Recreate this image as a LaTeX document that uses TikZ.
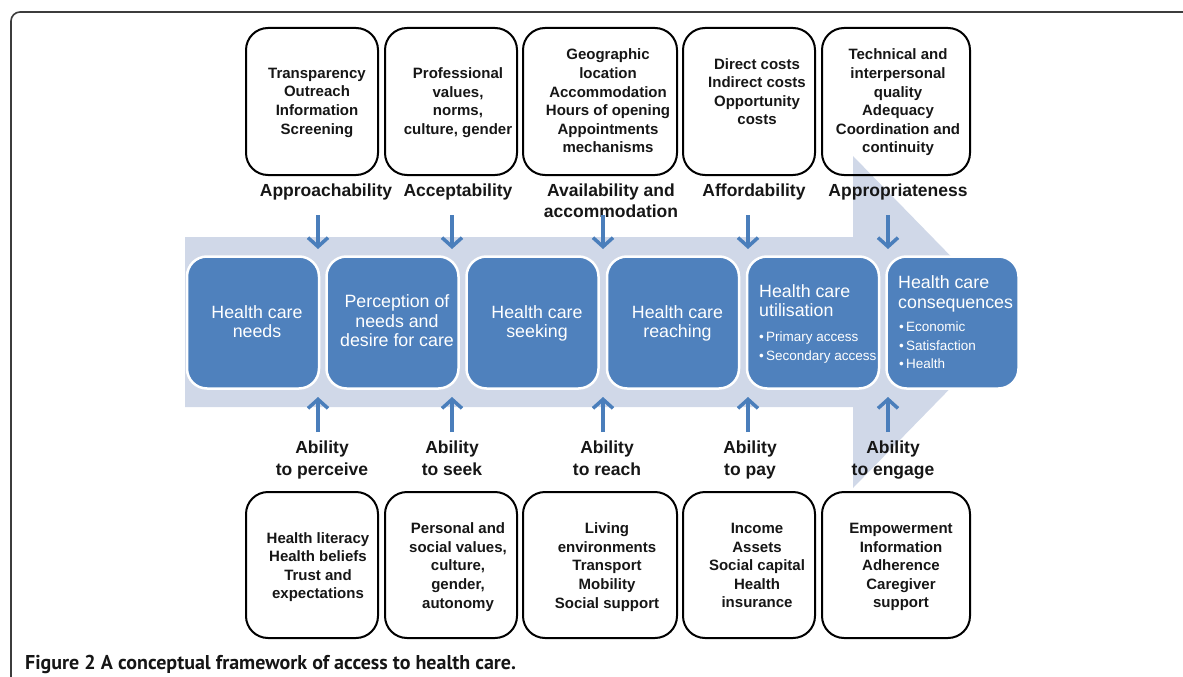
\documentclass[tikz,border=0pt]{standalone}
\usepackage{fontspec}
\setmainfont{Liberation Sans}
\newfontfamily\capfont{PT Sans}
\usetikzlibrary{arrows.meta}
\definecolor{pale}{RGB}{208,216,232}
\definecolor{hblue}{RGB}{79,129,189}
\definecolor{arrblue}{RGB}{74,126,187}
\definecolor{ink}{RGB}{22,22,22}
\definecolor{framec}{RGB}{60,60,60}
\tikzset{
 factorbox/.style={draw=black, line width=2pt, rounded corners=22pt, minimum width=#1, minimum height=147pt, inner sep=0pt},
 stagebox/.style={fill=hblue, draw=white, line width=2.5pt, rounded corners=20pt, minimum width=132pt, minimum height=132pt, inner sep=0pt},
 boxtext/.style={font=\bfseries\fontsize{15}{18.6}\selectfont, align=center, text=ink, inner sep=0pt, text depth=0pt},
 dimlabel/.style={font=\bfseries\fontsize{17.5}{21.5}\selectfont, align=center, text=ink, inner sep=0pt, text depth=0pt},
 stagetext/.style={font=\fontsize{17.8}{19.5}\selectfont, align=center, text=white, inner sep=0pt, text depth=0pt},
 stagetitle/.style={font=\fontsize{17.8}{19.5}\selectfont, align=left, text=white, inner sep=0pt, text depth=0pt, anchor=west},
 bullettext/.style={font=\fontsize{13.5}{18.5}\selectfont, align=left, text=white, inner sep=0pt, text depth=0pt, anchor=west},
 flowarrow/.style={draw=arrblue, line width=3.5pt, -{Straight Barb[length=9pt,width=20pt,line width=3.5pt]}},
}
\begin{document}
\begin{tikzpicture}[x=1pt,y=-1pt]
\useasboundingbox (0,0) rectangle (1183,677);
% frame
\draw[framec, line width=1.6pt, rounded corners=9pt] (11,700) -- (11,12) -- (1200,12);
% big pale arrow
\fill[pale] (185,237) -- (853,237) -- (853,156) -- (1015,322) -- (853,488) -- (853,407) -- (185,407) -- cycle;
% stage boxes
\node[stagebox] (s1) at (253,322.5) {};
\node[stagebox] (s2) at (392.5,322.5) {};
\node[stagebox] (s3) at (532.5,322.5) {};
\node[stagebox] (s4) at (673,322.5) {};
\node[stagebox] (s5) at (813,322.5) {};
\node[stagebox] (s6) at (952.5,322.5) {};
\node[stagetext] (s1t) at (257,321.5) {Health care\\needs};
\node[stagetext] (s2t) at (397,321) {Perception of\\needs and\\desire for care};
\node[stagetext] (s3t) at (537,321.5) {Health care\\seeking};
\node[stagetext] (s4t) at (677.5,321.5) {Health care\\reaching};
\node[stagetitle] (s5t) at (759,300.5) {Health care\\utilisation};
\begin{scope}
\clip[rounded corners=20pt] (747,256) rectangle (879,389);
\node[bullettext] (s5b) at (759,346) {•\,Primary access\\•\,Secondary access};
\end{scope}
\node[stagetitle] (s6t) at (898,292) {Health care\\consequences};
\node[bullettext] (s6b) at (899,345.5) {•\,Economic\\•\,Satisfaction\\•\,Health};
% top factor boxes
\node[factorbox=132pt] (t1) at (312,101.5) {};
\node[factorbox=132pt] (t2) at (451,101.5) {};
\node[factorbox=154pt] (t3) at (600,101.5) {};
\node[factorbox=132pt] (t4) at (749,101.5) {};
\node[factorbox=148pt] (t5) at (896,101.5) {};
\node[boxtext] (t1x) at (317,101) {Transparency\\Outreach\\Information\\Screening};
\node[boxtext] (t2x) at (458,101) {Professional\\values,\\norms,\\culture, gender};
\node[boxtext] (t3x) at (608,101) {Geographic\\location\\Accommodation\\Hours of opening\\Appointments\\mechanisms};
\node[boxtext] (t4x) at (757,91.5) {Direct costs\\Indirect costs\\Opportunity\\costs};
\node[boxtext] (t5x) at (898,101) {Technical and\\interpersonal\\quality\\Adequacy\\Coordination and\\continuity};
% top labels
\node[dimlabel] (l1) at (326,190) {Approachability};
\node[dimlabel] (l2) at (458,190) {Acceptability};
\node[dimlabel] (l3) at (611,200.5) {Availability and\\accommodation};
\node[dimlabel] (l4) at (754,190) {Affordability};
\node[dimlabel] (l5) at (898,190) {Appropriateness};
% top arrows
\coordinate (d1a) at (318,215); \coordinate (d1b) at (318,249);
\coordinate (d2a) at (452,215); \coordinate (d2b) at (452,249);
\coordinate (d3a) at (603,215); \coordinate (d3b) at (603,249);
\coordinate (d4a) at (748,215); \coordinate (d4b) at (748,249);
\coordinate (d5a) at (888,215); \coordinate (d5b) at (888,249);
\draw[flowarrow] (d1a) -- (d1b);
\draw[flowarrow] (d2a) -- (d2b);
\draw[flowarrow] (d3a) -- (d3b);
\draw[flowarrow] (d4a) -- (d4b);
\draw[flowarrow] (d5a) -- (d5b);
% bottom arrows
\coordinate (u1a) at (318,432); \coordinate (u1b) at (318,397);
\coordinate (u2a) at (452,432); \coordinate (u2b) at (452,397);
\coordinate (u3a) at (603,432); \coordinate (u3b) at (603,397);
\coordinate (u4a) at (748,432); \coordinate (u4b) at (748,397);
\coordinate (u5a) at (888,432); \coordinate (u5b) at (888,397);
\draw[flowarrow] (u1a) -- (u1b);
\draw[flowarrow] (u2a) -- (u2b);
\draw[flowarrow] (u3a) -- (u3b);
\draw[flowarrow] (u4a) -- (u4b);
\draw[flowarrow] (u5a) -- (u5b);
% bottom labels
\node[dimlabel] (b1l) at (322,458) {Ability\\to perceive};
\node[dimlabel] (b2l) at (452,458) {Ability\\to seek};
\node[dimlabel] (b3l) at (607,458) {Ability\\to reach};
\node[dimlabel] (b4l) at (750,458) {Ability\\to pay};
\node[dimlabel] (b5l) at (893,458) {Ability\\to engage};
% bottom factor boxes
\node[factorbox=132pt, minimum height=146pt] (b1) at (312,565) {};
\node[factorbox=132pt, minimum height=146pt] (b2) at (451,565) {};
\node[factorbox=154pt, minimum height=146pt] (b3) at (600,565) {};
\node[factorbox=132pt, minimum height=146pt] (b4) at (749,565) {};
\node[factorbox=148pt, minimum height=146pt] (b5) at (896,565) {};
\node[boxtext] (b1x) at (318,565.5) {Health literacy\\Health beliefs\\Trust and\\expectations};
\node[boxtext] (b2x) at (458,565.5) {Personal and\\social values,\\culture,\\gender,\\autonomy};
\node[boxtext] (b3x) at (607,565.5) {Living\\environments\\Transport\\Mobility\\Social support};
\node[boxtext] (b4x) at (757,565.5) {Income\\Assets\\Social capital\\Health\\insurance};
\node[boxtext] (b5x) at (901,565.5) {Empowerment\\Information\\Adherence\\Caregiver\\support};
% caption
\node[anchor=base west, inner sep=0pt, text=ink, font=\capfont\bfseries\fontsize{20}{22}\selectfont] (cap) at (25,669) {Figure 2 A conceptual framework of access to health care.};
\end{tikzpicture}
\end{document}
